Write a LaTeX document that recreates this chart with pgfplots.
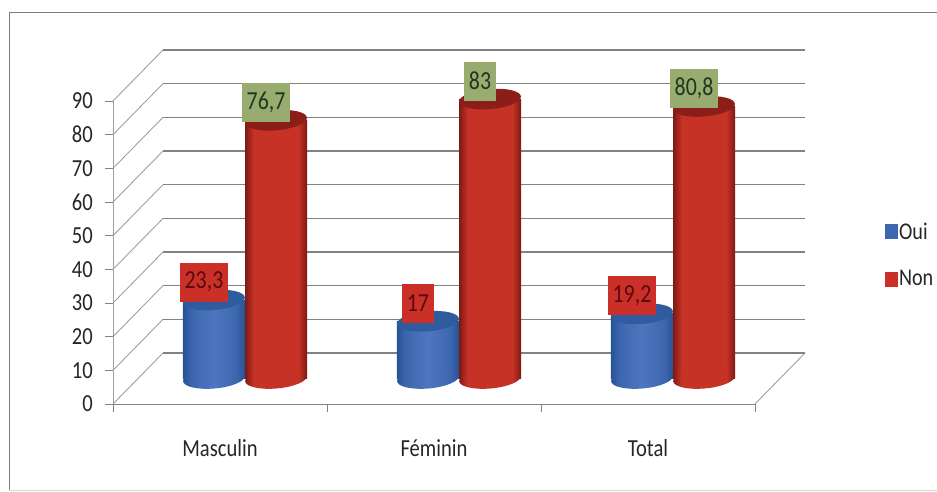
\documentclass[border=0pt]{standalone}
\usepackage{pgfplots}
\usepackage{pgfplotstable}
\usepackage{fontspec}
\setmainfont{Carlito}[FakeStretch=0.84]
\pgfplotsset{compat=1.18}
\usetikzlibrary{shapes.geometric}

\definecolor{gridgray}{RGB}{130,130,130}
\definecolor{depthgray}{RGB}{160,160,160}
\definecolor{frameline}{RGB}{125,125,125}
\definecolor{blueedge}{RGB}{40,82,150}
\definecolor{bluemid}{RGB}{60,103,174}
\definecolor{bluelight}{RGB}{78,118,192}
\definecolor{bluecap}{RGB}{46,92,158}
\definecolor{rededge}{RGB}{125,25,20}
\definecolor{redmid}{RGB}{198,50,38}
\definecolor{redcap}{RGB}{140,30,25}
\definecolor{boxred}{RGB}{202,48,40}
\definecolor{boxgreen}{RGB}{152,172,112}
\definecolor{textred}{RGB}{90,10,15}
\definecolor{textgreen}{RGB}{30,55,30}

% Cylinder surfaces: dark rims with a flat face between them
\pgfdeclarehorizontalshading{redcylinder}{100bp}{
  color(0bp)=(rededge); color(25bp)=(rededge); color(32bp)=(redmid);
  color(68bp)=(redmid); color(75bp)=(rededge); color(100bp)=(rededge)}
\pgfdeclarehorizontalshading{bluecylinder}{100bp}{
  color(0bp)=(blueedge); color(25bp)=(blueedge); color(32bp)=(bluemid);
  color(50bp)=(bluelight); color(68bp)=(bluemid); color(75bp)=(blueedge);
  color(100bp)=(blueedge)}

% Survey shares per category; x is the centre of the category on the axis
\pgfplotstableread{
x   oui   non
0.5 23.3  76.7
1.5 17    83
2.5 19.2  80.8
}\shares

% Back wall: one horizontal line per grid level
\pgfplotstableread{
x      y
0.2336 15.15
3.2336 15.15
nan    nan
0.2336 25.15
3.2336 25.15
nan    nan
0.2336 35.15
3.2336 35.15
nan    nan
0.2336 45.15
3.2336 45.15
nan    nan
0.2336 55.15
3.2336 55.15
nan    nan
0.2336 65.15
3.2336 65.15
nan    nan
0.2336 75.15
3.2336 75.15
nan    nan
0.2336 85.15
3.2336 85.15
nan    nan
0.2336 95.15
3.2336 95.15
nan    nan
0.2336 105.15
3.2336 105.15
}\backwall

% Side wall and floor edge: lines running from the value axis into the depth
\pgfplotstableread{
x      y
0      0
0.2336 15.15
nan    nan
3      0
3.2336 15.15
nan    nan
0      10
0.2336 25.15
nan    nan
0      20
0.2336 35.15
nan    nan
0      30
0.2336 45.15
nan    nan
0      40
0.2336 55.15
nan    nan
0      50
0.2336 65.15
nan    nan
0      60
0.2336 75.15
nan    nan
0      70
0.2336 85.15
nan    nan
0      80
0.2336 95.15
nan    nan
0      90
0.2336 105.15
}\sidewall

\pgfplotsset{
  chartbase/.style={
    scale only axis, width=642pt, height=303pt,
    xmin=0, xmax=3, ymin=0, ymax=90, clip=false,
    anchor=south west,
  },
  cylinder body/.style={
    ybar, bar width=62pt, /pgf/bar shift=0pt, draw=none,
    shading=#1, forget plot,
  },
  cylinder end/.style={
    only marks, mark=none, forget plot,
    nodes near coords={},
    every node near coord/.style={
      ellipse, inner sep=0pt, minimum width=62pt, minimum height=20pt,
      anchor=center, rotate=5, shading=#1,
    },
  },
  cylinder cap/.style={
    only marks, mark=none, forget plot,
    nodes near coords={},
    every node near coord/.style={
      ellipse, inner sep=0pt, minimum width=62pt, minimum height=20pt,
      anchor=center, rotate=5, fill=#1,
    },
  },
  value box/.style n args={2}{
    only marks, mark=none, forget plot,
    nodes near coords={\pgfmathprintnumber[use comma, fixed, precision=1, assume math mode=true]{\pgfplotspointmeta}},
    every node near coord/.style={
      anchor=center, xshift=-10pt, yshift=18pt, fill=#1, text=#2,
      font=\fontsize{26}{26}\selectfont, inner xsep=4.5pt, inner ysep=0pt,
      minimum height=39pt,
    },
  },
}

\begin{document}
\begin{tikzpicture}[x=1pt,y=1pt]
  \path[use as bounding box] (0,0) rectangle (937,491);
  \fill[white] (0,0) rectangle (937,491);
  % outer chart frame
  \draw[frameline, line width=1pt] (9,0.8) -- (9,478) -- (937,478);
  \draw[black!16, line width=0.8pt] (9,0.8) -- (937,0.8);

  % wall, floor and value axis
  \begin{axis}[chartbase, at={(113pt,87pt)},
      axis x line=bottom, axis y line=left,
      axis line style={-, gridgray, line width=0.9pt},
      y axis line style={depthgray},
      tick style={gridgray, line width=0.9pt},
      major tick length=8pt,
      tick align=outside,
      ytick={0,10,...,90},
      xtick={0,1,2,3}, xticklabels={},
      extra x ticks={0.5,1.5,2.5},
      extra x tick labels={Masculin,Féminin,Total},
      extra x tick style={major tick length=0pt,
        tick label style={yshift=-32pt}},
      tick label style={font=\fontsize{24.5}{24.5}\selectfont, text=black!85},
      y tick label style={inner sep=0pt, xshift=-12pt},
      /pgf/number format/assume math mode=true,
    ]
    \addplot[depthgray, line width=0.9pt, unbounded coords=jump] table {\sidewall};
    \addplot[gridgray, line width=1.1pt, unbounded coords=jump] table {\backwall};
  \end{axis}

  % cylinders stand half way back on the floor, hence the offset axis
  \begin{axis}[chartbase, at={(138pt,112.5pt)}, hide axis,
      legend style={draw=none, fill=none, at={(772pt,123.5pt)}, anchor=center,
        font=\fontsize{24}{24}\selectfont, text=black!85, row sep=26pt,
        /tikz/every even column/.append style={column sep=3pt},
      },
      legend cell align=left,
    ]
    % each category gets its own pair of bodies, so the rims shade per cylinder
    \pgfplotsinvokeforeach{0:1,1:2,2:3}{
      \addplot[cylinder end=bluecylinder, restrict x to domain=#1] table[x expr=\thisrow{x}-0.145, y expr=0*\thisrow{oui}] {\shares};
      \addplot[cylinder body=bluecylinder, restrict x to domain=#1] table[x expr=\thisrow{x}-0.145, y=oui] {\shares};
    }
    \addplot[cylinder cap=bluecap] table[x expr=\thisrow{x}-0.145, y=oui] {\shares};
    \pgfplotsinvokeforeach{0:1,1:2,2:3}{
      \addplot[cylinder end=redcylinder, restrict x to domain=#1] table[x expr=\thisrow{x}+0.145, y expr=0*\thisrow{non}] {\shares};
      \addplot[cylinder body=redcylinder, restrict x to domain=#1] table[x expr=\thisrow{x}+0.145, y=non] {\shares};
    }
    \addplot[cylinder cap=redcap] table[x expr=\thisrow{x}+0.145, y=non] {\shares};
    \addplot[value box={boxred}{textred}] table[x expr=\thisrow{x}-0.145, y=oui] {\shares};
    \addplot[value box={boxgreen}{textgreen}] table[x expr=\thisrow{x}+0.145, y=non] {\shares};

    % legend keys
    \addlegendimage{legend image code/.code={\fill[bluemid] (0pt,-7pt) rectangle (12pt,7pt);}}
    \addlegendentry{Oui}
    \addlegendimage{legend image code/.code={\fill[boxred] (0pt,-7pt) rectangle (12pt,7pt);}}
    \addlegendentry{Non}
  \end{axis}
\end{tikzpicture}
\end{document}
